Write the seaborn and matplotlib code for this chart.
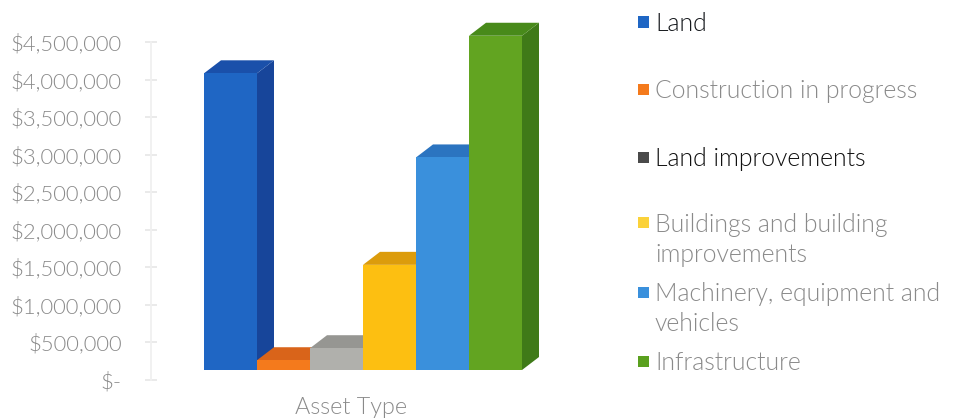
import matplotlib
matplotlib.use("Agg")
import matplotlib.pyplot as plt
from matplotlib.patches import Polygon, Rectangle
from matplotlib.transforms import ScaledTranslation
import seaborn as sns
import pandas as pd

categories = ["Land", "Construction in progress", "Land improvements",
              "Buildings and building\nimprovements",
              "Machinery, equipment and\nvehicles", "Infrastructure"]
asset_values = [3950000, 130000, 290000, 1400000, 2830000, 4450000]
front_colors = ["#1f66c4", "#f47a1c", "#b0b0ac", "#fdbf11", "#3a90dc", "#62a421"]
side_colors = ["#17459a", "#b04f10", "#8a8a86", "#b98a0c", "#2a6cb0", "#3f7a18"]
top_colors = ["#1a50aa", "#d9641a", "#969692", "#dc9c0c", "#2b74c0", "#488a1a"]
tick_values = [0, 500000, 1000000, 1500000, 2000000, 2500000,
               3000000, 3500000, 4000000, 4500000]
tick_labels = ["$-", "$500,000", "$1,000,000", "$1,500,000", "$2,000,000",
               "$2,500,000", "$3,000,000", "$3,500,000", "$4,000,000", "$4,500,000"]
legend_rows = [22, 89, 157, 223, 292, 361]
legend_text_colors = ["#15181c", "#8a8a8a", "#101010", "#8a8a8a", "#8a8a8a", "#8a8a8a"]
legend_mark_colors = ["#1f66c4", "#f47a1c", "#4a4a4a", "#fbd23a", "#3a90dc", "#5aa01e"]

W, H = 956, 420
sns.set_theme(style="white")
plt.rcParams["font.family"] = ["Lato", "DejaVu Sans"]
TEXT_WEIGHT = 300

fig = plt.figure(figsize=(W / 100, H / 100), dpi=100, facecolor="white")


def frame(x0, x1, y_top, y_bottom):
    return [x0 / W, 1 - y_bottom / H, (x1 - x0) / W, (y_bottom - y_top) / H]


# Value axis: a faint rule with outward ticks on both sides
axis_ax = fig.add_axes(frame(151, 160, 42, 380), facecolor="none")
axis_ax.set_ylim(0, 4500000)
axis_ax.set_yticks(tick_values, tick_labels)
axis_ax.set_xticks([])
for name in ("top", "right", "bottom"):
    axis_ax.spines[name].set_visible(False)
axis_ax.spines["left"].set_color("#f0f0f0")
axis_ax.tick_params(axis="y", direction="inout", length=8, width=1.2, color="#e6e6e6",
                    labelsize=15.8, labelcolor="#8a8a8a", pad=17, left=True)
for label in axis_ax.get_yticklabels():
    label.set_fontweight(TEXT_WEIGHT)

# Bar faces sit on a floor slightly above the zero tick
bar_ax = fig.add_axes(frame(204, 522, 32, 370), facecolor="none")
data = pd.DataFrame({"asset": categories, "value": asset_values})
sns.barplot(data=data, x="asset", y="value", hue="asset", palette=front_colors,
            width=1.0, legend=False, ax=bar_ax, saturation=1, linewidth=0)
bar_ax.set_xlim(-0.5, 5.5)
bar_ax.set_ylim(0, 4500000)
bar_ax.axis("off")

# Extrude each front face backwards; later bars paint over earlier ones
DX, DY = 17 / 100, 13 / 100
depth = bar_ax.transData + ScaledTranslation(DX, DY, fig.dpi_scale_trans)
to_data = bar_ax.transData.inverted()


def back(x, y):
    return to_data.transform(depth.transform((x, y)))


for i, patch in enumerate(bar_ax.patches):
    x0, x1 = patch.get_x(), patch.get_x() + patch.get_width()
    top = patch.get_height()
    side = Polygon([(x1, 0), (x1, top), back(x1, top), back(x1, 0)],
                   closed=True, facecolor=side_colors[i], edgecolor="none",
                   zorder=3 * i + 3, clip_on=False)
    lid = Polygon([(x0, top), (x1, top), back(x1, top), back(x0, top)],
                  closed=True, facecolor=top_colors[i], edgecolor="none",
                  zorder=3 * i + 4, clip_on=False)
    bar_ax.add_patch(side)
    bar_ax.add_patch(lid)
    patch.set_zorder(3 * i + 5)
    patch.set_clip_on(False)

fig.text(351 / W, 1 - 408 / H, "Asset Type", ha="center", va="center",
         fontsize=16.8, color="#8a8a8a", fontweight=TEXT_WEIGHT)

# Legend column, laid out by hand because wrapped rows close up the spacing
for label, row, tcolor, mcolor in zip(categories, legend_rows, legend_text_colors, legend_mark_colors):
    fig.add_artist(Rectangle((638 / W, 1 - (row + 5.5) / H), 11 / W, 11 / H,
                             transform=fig.transFigure, facecolor=mcolor, edgecolor="none"))
    fig.text(655 / W, 1 - (row - 10) / H, label, ha="left", va="top", fontsize=17.8,
             color=tcolor, fontweight=TEXT_WEIGHT, linespacing=1.3)

fig.savefig("out.png", dpi=100, facecolor="white")
